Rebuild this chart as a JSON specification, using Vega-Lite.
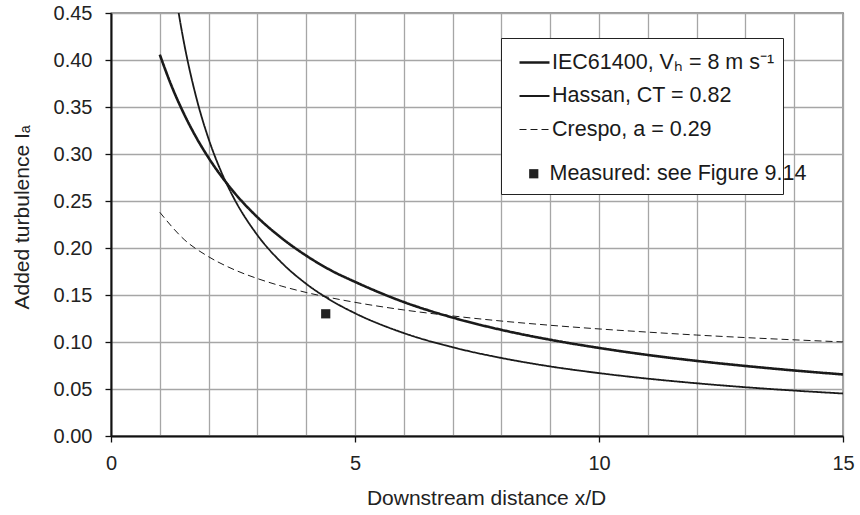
{
  "$schema": "https://vega.github.io/schema/vega-lite/v6.json",
  "autosize": {"type": "none"},
  "width": 732,
  "height": 423,
  "padding": {"left": 111, "top": 13, "right": 17, "bottom": 79},
  "background": "white",
  "config": {
    "font": "Liberation Sans",
    "view": {"stroke": "#333333", "strokeWidth": 1.3},
    "axis": {
      "labelFont": "Liberation Sans",
      "titleFont": "Liberation Sans",
      "labelColor": "#222222",
      "titleColor": "#222222",
      "titleFontWeight": "normal",
      "gridColor": "#a6a6a6",
      "gridWidth": 1.3,
      "gridOpacity": 1,
      "domainColor": "#111111",
      "domainWidth": 2,
      "tickColor": "#111111",
      "tickWidth": 1.3
    }
  },
  "datasets": {
    "curves": [
      {"series": "IEC61400, Vₕ = 8 m s⁻¹", "x": 1, "y": 0.4057},
      {"series": "IEC61400, Vₕ = 8 m s⁻¹", "x": 1.25, "y": 0.3712},
      {"series": "IEC61400, Vₕ = 8 m s⁻¹", "x": 1.5, "y": 0.3422},
      {"series": "IEC61400, Vₕ = 8 m s⁻¹", "x": 1.75, "y": 0.3173},
      {"series": "IEC61400, Vₕ = 8 m s⁻¹", "x": 2, "y": 0.2959},
      {"series": "IEC61400, Vₕ = 8 m s⁻¹", "x": 2.5, "y": 0.2606},
      {"series": "IEC61400, Vₕ = 8 m s⁻¹", "x": 3, "y": 0.2328},
      {"series": "IEC61400, Vₕ = 8 m s⁻¹", "x": 3.5, "y": 0.2104},
      {"series": "IEC61400, Vₕ = 8 m s⁻¹", "x": 4, "y": 0.1919},
      {"series": "IEC61400, Vₕ = 8 m s⁻¹", "x": 4.5, "y": 0.1764},
      {"series": "IEC61400, Vₕ = 8 m s⁻¹", "x": 5, "y": 0.1640},
      {"series": "IEC61400, Vₕ = 8 m s⁻¹", "x": 6, "y": 0.1425},
      {"series": "IEC61400, Vₕ = 8 m s⁻¹", "x": 7, "y": 0.1260},
      {"series": "IEC61400, Vₕ = 8 m s⁻¹", "x": 8, "y": 0.1129},
      {"series": "IEC61400, Vₕ = 8 m s⁻¹", "x": 9, "y": 0.1024},
      {"series": "IEC61400, Vₕ = 8 m s⁻¹", "x": 10, "y": 0.0937},
      {"series": "IEC61400, Vₕ = 8 m s⁻¹", "x": 11, "y": 0.0862},
      {"series": "IEC61400, Vₕ = 8 m s⁻¹", "x": 12, "y": 0.0799},
      {"series": "IEC61400, Vₕ = 8 m s⁻¹", "x": 13, "y": 0.0745},
      {"series": "IEC61400, Vₕ = 8 m s⁻¹", "x": 14, "y": 0.0697},
      {"series": "IEC61400, Vₕ = 8 m s⁻¹", "x": 15, "y": 0.0655},
      {"series": "Hassan, CT = 0.82", "x": 1.3, "y": 0.4790},
      {"series": "Hassan, CT = 0.82", "x": 1.4, "y": 0.4459},
      {"series": "Hassan, CT = 0.82", "x": 1.5, "y": 0.4172},
      {"series": "Hassan, CT = 0.82", "x": 1.75, "y": 0.3596},
      {"series": "Hassan, CT = 0.82", "x": 2, "y": 0.3161},
      {"series": "Hassan, CT = 0.82", "x": 2.25, "y": 0.2821},
      {"series": "Hassan, CT = 0.82", "x": 2.5, "y": 0.2548},
      {"series": "Hassan, CT = 0.82", "x": 3, "y": 0.2137},
      {"series": "Hassan, CT = 0.82", "x": 3.5, "y": 0.1842},
      {"series": "Hassan, CT = 0.82", "x": 4, "y": 0.1619},
      {"series": "Hassan, CT = 0.82", "x": 4.5, "y": 0.1445},
      {"series": "Hassan, CT = 0.82", "x": 5, "y": 0.1306},
      {"series": "Hassan, CT = 0.82", "x": 6, "y": 0.1095},
      {"series": "Hassan, CT = 0.82", "x": 7, "y": 0.0944},
      {"series": "Hassan, CT = 0.82", "x": 8, "y": 0.0830},
      {"series": "Hassan, CT = 0.82", "x": 9, "y": 0.0740},
      {"series": "Hassan, CT = 0.82", "x": 10, "y": 0.0669},
      {"series": "Hassan, CT = 0.82", "x": 11, "y": 0.0610},
      {"series": "Hassan, CT = 0.82", "x": 12, "y": 0.0561},
      {"series": "Hassan, CT = 0.82", "x": 13, "y": 0.0519},
      {"series": "Hassan, CT = 0.82", "x": 14, "y": 0.0483},
      {"series": "Hassan, CT = 0.82", "x": 15, "y": 0.0452},
      {"series": "Crespo, a = 0.29", "x": 1, "y": 0.2380},
      {"series": "Crespo, a = 0.29", "x": 1.5, "y": 0.2090},
      {"series": "Crespo, a = 0.29", "x": 2, "y": 0.1907},
      {"series": "Crespo, a = 0.29", "x": 2.5, "y": 0.1775},
      {"series": "Crespo, a = 0.29", "x": 3, "y": 0.1675},
      {"series": "Crespo, a = 0.29", "x": 3.5, "y": 0.1594},
      {"series": "Crespo, a = 0.29", "x": 4, "y": 0.1527},
      {"series": "Crespo, a = 0.29", "x": 4.5, "y": 0.1471},
      {"series": "Crespo, a = 0.29", "x": 5, "y": 0.1422},
      {"series": "Crespo, a = 0.29", "x": 6, "y": 0.1341},
      {"series": "Crespo, a = 0.29", "x": 7, "y": 0.1277},
      {"series": "Crespo, a = 0.29", "x": 8, "y": 0.1223},
      {"series": "Crespo, a = 0.29", "x": 9, "y": 0.1178},
      {"series": "Crespo, a = 0.29", "x": 10, "y": 0.1139},
      {"series": "Crespo, a = 0.29", "x": 11, "y": 0.1105},
      {"series": "Crespo, a = 0.29", "x": 12, "y": 0.1074},
      {"series": "Crespo, a = 0.29", "x": 13, "y": 0.1047},
      {"series": "Crespo, a = 0.29", "x": 14, "y": 0.1023},
      {"series": "Crespo, a = 0.29", "x": 15, "y": 0.1001}
    ],
    "measured": [
      {"series": "Measured: see Figure 9.14", "x": 4.4, "y": 0.13}
    ]
  },
  "layer": [
    {
      "data": {"name": "curves"},
      "mark": {"type": "line", "interpolate": "monotone", "clip": true, "color": "#1a1a1a"},
      "encoding": {
        "x": {
          "field": "x", "type": "quantitative",
          "scale": {"domain": [0, 15], "nice": false},
          "axis": {
            "values": [0, 1, 2, 3, 4, 5, 6, 7, 8, 9, 10, 11, 12, 13, 14, 15],
            "labelExpr": "datum.value % 5 === 0 ? datum.label : ''",
            "tickOpacity": {"condition": {"test": "datum.value % 5 === 0", "value": 1}, "value": 0},
            "tickSize": 6,
            "labelFontSize": 20,
            "labelPadding": 11,
            "labelFlush": false,
            "title": "Downstream distance x/D",
            "titleFontSize": 21,
            "titleX": 375,
            "titleY": 68.5,
            "titleBaseline": "alphabetic",
            "grid": true
          }
        },
        "y": {
          "field": "y", "type": "quantitative",
          "scale": {"domain": [0, 0.45], "nice": false},
          "axis": {
            "values": [0, 0.05, 0.1, 0.15, 0.2, 0.25, 0.3, 0.35, 0.4, 0.45],
            "format": ".2f",
            "tickSize": 6,
            "labelFontSize": 20,
            "labelPadding": 13,
            "labelFlush": false,
            "title": "Added turbulence Iₐ",
            "titleFontSize": 21,
            "titlePadding": 21,
            "titleY": 204,
            "grid": true
          }
        },
        "detail": {"field": "series"},
        "strokeDash": {
          "field": "series", "type": "nominal",
          "scale": {
            "domain": ["IEC61400, Vₕ = 8 m s⁻¹", "Hassan, CT = 0.82", "Crespo, a = 0.29"],
            "range": [[1, 0], [1, 0], [7, 4]]
          },
          "legend": {
            "title": "\u00a0\u00a0\u00a0\u00a0\u00a0\u00a0\u00a0\u00a0\u00a0\u00a0\u00a0\u00a0\u00a0\u00a0\u00a0\u00a0\u00a0\u00a0\u00a0\u00a0\u00a0\u00a0\u00a0\u00a0\u00a0\u00a0\u00a0\u00a0\u00a0\u00a0\u00a0\u00a0\u00a0\u00a0\u00a0\u00a0\u00a0",
            "titleOrient": "bottom",
            "titleFontSize": 28,
            "titlePadding": 18,
            "titleLimit": 600,
            "orient": "none",
            "legendX": 390,
            "legendY": 25,
            "zindex": 1,
            "fillColor": "white",
            "strokeColor": "#222222",
            "padding": 8,
            "symbolSize": 900,
            "symbolOffset": 9,
            "labelOffset": 1,
            "rowPadding": 7,
            "labelFontSize": 21.5,
            "labelColor": "#1a1a1a",
            "labelFont": "Liberation Sans",
            "labelLimit": 400
          }
        },
        "strokeWidth": {
          "field": "series", "type": "nominal",
          "scale": {
            "domain": ["IEC61400, Vₕ = 8 m s⁻¹", "Hassan, CT = 0.82", "Crespo, a = 0.29"],
            "range": [2.6, 1, 1]
          },
          "legend": null
        }
      }
    },
    {
      "data": {"name": "measured"},
      "mark": {"type": "point", "filled": true, "size": 85, "color": "#222222", "opacity": 1},
      "encoding": {
        "x": {"field": "x", "type": "quantitative"},
        "y": {"field": "y", "type": "quantitative"},
        "shape": {
          "field": "series", "type": "nominal",
          "scale": {"domain": ["Measured: see Figure 9.14"], "range": ["square"]},
          "legend": {
            "title": null,
            "orient": "none",
            "legendX": 412,
            "legendY": 150,
            "zindex": 2,
            "padding": 0,
            "symbolSize": 85,
            "symbolOffset": 0,
            "labelOffset": 5,
            "labelFontSize": 21.5,
            "labelColor": "#1a1a1a",
            "labelFont": "Liberation Sans",
            "labelLimit": 400,
            "symbolFillColor": "#222222",
            "symbolOpacity": 1
          }
        }
      }
    }
  ]
}
